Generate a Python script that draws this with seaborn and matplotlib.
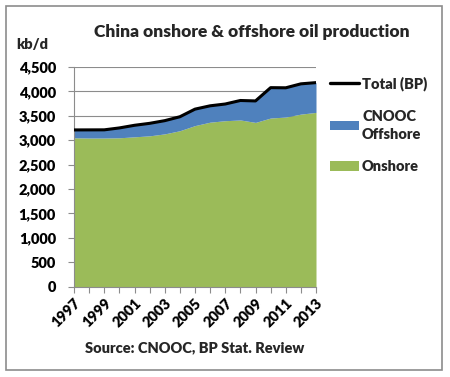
import matplotlib
matplotlib.use("Agg")
import matplotlib.pyplot as plt
from matplotlib.patches import Rectangle, Patch
from matplotlib.lines import Line2D
import seaborn as sns
import pandas as pd
import numpy as np

years = list(range(1997, 2014))
total_bp = [3211, 3212, 3213, 3252, 3306, 3346, 3401, 3481, 3637, 3705, 3742, 3814, 3805, 4077, 4074, 4155, 4180]
onshore = [3050, 3045, 3045, 3050, 3070, 3090, 3130, 3195, 3300, 3370, 3400, 3415, 3365, 3455, 3475, 3535, 3570]
offshore = [t - o for t, o in zip(total_bp, onshore)]
year_labels = [str(y) for y in range(1997, 2014, 2)]

df = pd.DataFrame({"year": years, "total": total_bp, "onshore": onshore, "offshore": offshore})

sns.set_theme(style="white")
plt.rcParams['font.family'] = ['Lato', 'DejaVu Sans']

GREEN = "#9BBB59"
BLUE = "#4F81BD"
W = "heavy"

fig = plt.figure(figsize=(4.5, 3.77), dpi=100)
fig.patches.append(Rectangle((6/450, 1-370/377), 436/450, 364/377, transform=fig.transFigure,
                             fill=False, edgecolor="#8c8c8c", linewidth=1.2))

ax = fig.add_axes([74/450, 1-286.7/377, 242/450, 219.7/377])
ax.stackplot(df["year"], df["onshore"], df["offshore"], colors=[GREEN, BLUE], linewidth=0, zorder=2)
sns.lineplot(data=df, x="year", y="total", ax=ax, color="black", linewidth=2.2, zorder=3, legend=False)

ax.set_xlim(1997, 2013)
ax.set_ylim(0, 4500)
ax.set_yticks(range(0, 4501, 500))
ax.set_yticklabels([f"{v:,}" for v in range(0, 4501, 500)], fontweight=W, fontsize=10.5)
ax.set_xticks(years)
ax.set_xticklabels([str(y) if (y - 1997) % 2 == 0 else "" for y in years],
                   rotation=45, ha="right", rotation_mode="anchor", fontweight=W, fontsize=10.5)
ax.set_xlabel("")
ax.set_ylabel("")
ax.yaxis.grid(True, color="#8c8c8c", linewidth=0.8, zorder=0)
ax.set_axisbelow(True)
for s in ["top", "right"]:
    ax.spines[s].set_visible(False)
for s in ["left", "bottom"]:
    ax.spines[s].set_color("#8c8c8c")
    ax.spines[s].set_linewidth(0.8)
ax.tick_params(axis="both", which="major", direction="out", length=4, color="#8c8c8c", width=0.8,
               labelcolor="black", bottom=True, left=True)
ax.tick_params(axis="y", pad=9)
ax.tick_params(axis="x", pad=3)

fig.text(252/450, 1-32/377, "China onshore & offshore oil production", ha="center", va="center",
         fontsize=12.5, fontweight=W)
fig.text(16/450, 1-45/377, "kb/d", ha="left", va="center", fontsize=10.5, fontweight=W)
fig.text(195/450, 1-348/377, "Source: CNOOC, BP Stat. Review", ha="center", va="center",
         fontsize=10.5, fontweight=W)

handles = [Line2D([0], [0], color="black", linewidth=2.4),
           Patch(facecolor=BLUE, edgecolor="none"),
           Patch(facecolor=GREEN, edgecolor="none")]
labels = ["Total (BP)", "CNOOC\nOffshore", "Onshore"]
leg = fig.legend(handles, labels, loc="upper left", bbox_to_anchor=(330/450, 1-76/377),
                 frameon=False, fontsize=10.5, handlelength=2.0, handleheight=0.6, handletextpad=0.2,
                 labelspacing=1.3, borderaxespad=0, borderpad=0)
for t in leg.get_texts():
    t.set_fontweight(W)
    t.set_linespacing(1.5)

fig.savefig("out.png", dpi=100)
